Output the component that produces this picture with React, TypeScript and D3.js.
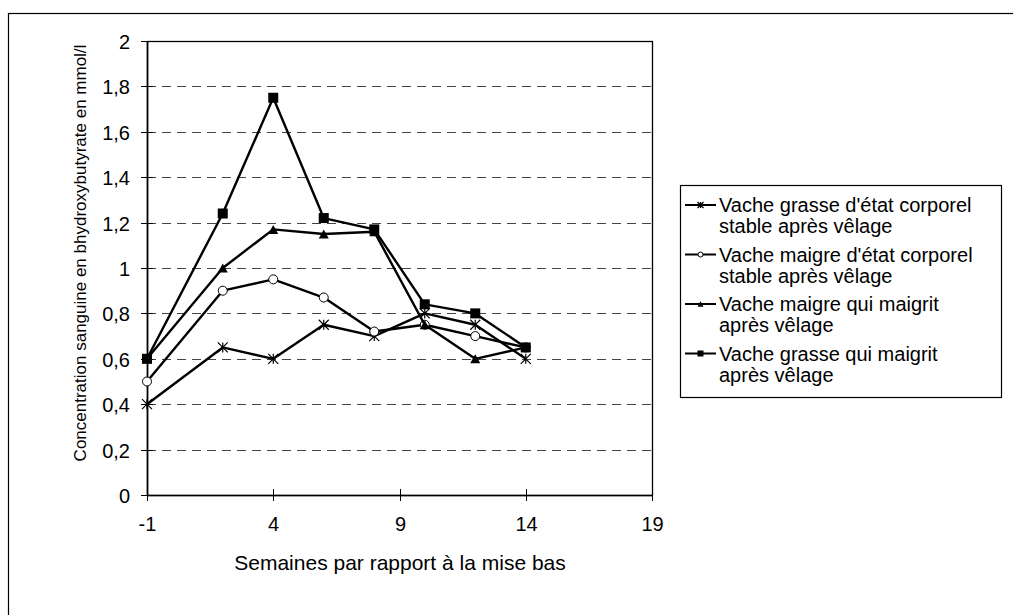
import React from "react"
import * as d3 from "d3"

// semaines par rapport à la mise bas
const weeks = [-1, 2, 4, 6, 8, 10, 12, 14]

const grasseStable = [0.4, 0.65, 0.6, 0.75, 0.7, 0.8, 0.75, 0.6]
const maigreStable = [0.5, 0.9, 0.95, 0.87, 0.72, 0.75, 0.7, 0.65]
const maigreMaigrit = [0.6, 1.0, 1.17, 1.15, 1.16, 0.75, 0.6, 0.65]
const grasseMaigrit = [0.6, 1.24, 1.75, 1.22, 1.17, 0.84, 0.8, 0.65]

const xTicks = [-1, 4, 9, 14, 19]
const yTicks = [0, 0.2, 0.4, 0.6, 0.8, 1, 1.2, 1.4, 1.6, 1.8, 2]

const seriesNames = [
	["Vache grasse d'état corporel", "stable après vêlage"],
	["Vache maigre d'état corporel", "stable après vêlage"],
	["Vache maigre qui maigrit", "après vêlage"],
	["Vache grasse qui maigrit", "après vêlage"],
]
const seriesValues = [grasseStable, maigreStable, maigreMaigrit, grasseMaigrit]
const seriesMarkers = ["star", "circle", "triangle", "square"]

const W = 1013, H = 615
const plot = { left: 147, right: 652, top: 41, bottom: 495 }
const FONT = "'Liberation Sans', Arial, sans-serif"

const fmt = (v: number) => String(+v.toFixed(1)).replace(".", ",")

function Marker({ type, x, y, s }: { type: string, x: number, y: number, s: number }) {
	if (type === "square") {
		return <rect x={x - s / 2} y={y - s / 2} width={s} height={s} fill="#000" />
	}
	if (type === "circle") {
		return <circle cx={x} cy={y} r={s / 2 - 0.5} fill="#fff" stroke="#000" strokeWidth={1} />
	}
	if (type === "triangle") {
		const h = s * 0.9
		return <path d={`M${x},${y - h / 2}L${x + s / 2},${y + h / 2}L${x - s / 2},${y + h / 2}Z`} fill="#000" />
	}
	// asterisk
	const r = s / 2
	return (
		<path
			d={`M${x - r},${y - r}L${x + r},${y + r}M${x - r},${y + r}L${x + r},${y - r}M${x},${y - r}L${x},${y + r}`}
			stroke="#000" strokeWidth={1.2} fill="none" />
	)
}

export default function App() {
	const xScale = d3.scaleLinear().domain([-1, 19]).range([plot.left, plot.right])
	const yScale = d3.scaleLinear().domain([0, 2]).range([plot.bottom, plot.top])

	const line = d3.line<number>()
		.x((d, i) => xScale(weeks[i]))
		.y(d => yScale(d))

	const legend = { x: 680, y: 185, w: 321, h: 212 }

	return (
		<svg width={W} height={H} style={{ display: "block", position: "absolute", left: 0, top: 0 }}
			fontFamily={FONT}>
			<rect x={0} y={0} width={W} height={H} fill="#fff" />
			{/* chart area border (cropped at right and bottom) */}
			<rect x={8.5} y={13.5} width={W + 20} height={H + 20} fill="none" stroke="#000" strokeWidth={1.2} />

			{/* gridlines */}
			{yTicks.filter(t => t > 0 && t < 2).map(t => (
				<line key={"g" + t} x1={plot.left} x2={plot.right} y1={Math.round(yScale(t)) + 0.5} y2={Math.round(yScale(t)) + 0.5}
					stroke="#444" strokeWidth={1} strokeDasharray="9,6" />
			))}

			{/* plot area border */}
			<rect x={plot.left + 0.5} y={plot.top + 0.5} width={plot.right - plot.left} height={plot.bottom - plot.top}
				fill="none" stroke="#000" strokeWidth={1.3} />

			{/* y axis */}
			{yTicks.map(t => {
				const y = Math.round(yScale(t)) + 0.5
				return (
					<g key={"y" + t}>
						<line x1={plot.left - 6} x2={plot.left + 6} y1={y} y2={y} stroke="#000" strokeWidth={1} />
						<text x={plot.left - 17} y={y} dy="0.35em" textAnchor="end" fontSize={20}>{fmt(t)}</text>
					</g>
				)
			})}
			<line x1={plot.left + 0.5} x2={plot.left + 0.5} y1={plot.top} y2={plot.bottom} stroke="#000" strokeWidth={1.6} />

			{/* x axis */}
			{xTicks.map(t => {
				const x = Math.round(xScale(t)) + 0.5
				return (
					<g key={"x" + t}>
						<line x1={x} x2={x} y1={plot.bottom - 6} y2={plot.bottom + 6} stroke="#000" strokeWidth={1} />
						<text x={x} y={plot.bottom + 36} textAnchor="middle" fontSize={20}>{t}</text>
					</g>
				)
			})}
			<line x1={plot.left} x2={plot.right} y1={plot.bottom + 0.5} y2={plot.bottom + 0.5} stroke="#000" strokeWidth={1.6} />

			{/* axis titles */}
			<text x={400} y={570} textAnchor="middle" fontSize={21}>Semaines par rapport à la mise bas</text>
			<text transform={`translate(86,253) rotate(-90)`} textAnchor="middle" fontSize={17}>
				Concentration sanguine en bhydroxybutyrate en mmol/l
			</text>

			{/* series */}
			{seriesValues.map((vals, si) => (
				<g key={"s" + si}>
					<path d={line(vals) || ""} fill="none" stroke="#000" strokeWidth={2.4} strokeLinejoin="round" />
					{vals.map((v, i) => (
						<Marker key={i} type={seriesMarkers[si]} x={xScale(weeks[i])} y={yScale(v)} s={10} />
					))}
				</g>
			))}

			{/* legend */}
			<rect x={legend.x + 0.5} y={legend.y + 0.5} width={legend.w} height={legend.h} fill="#fff" stroke="#000" strokeWidth={1.2} />
			{seriesNames.map((lines, i) => {
				const y = 205 + i * 49.5
				return (
					<g key={"l" + i}>
						<line x1={685} x2={716} y1={y} y2={y} stroke="#000" strokeWidth={2} />
						<Marker type={seriesMarkers[i]} x={700.5} y={y} s={6} />
						{lines.map((ln, j) => (
							<text key={j} x={719} y={y + j * 21} dy="0.35em" fontSize={20}>{ln}</text>
						))}
					</g>
				)
			})}
		</svg>
	)
}
